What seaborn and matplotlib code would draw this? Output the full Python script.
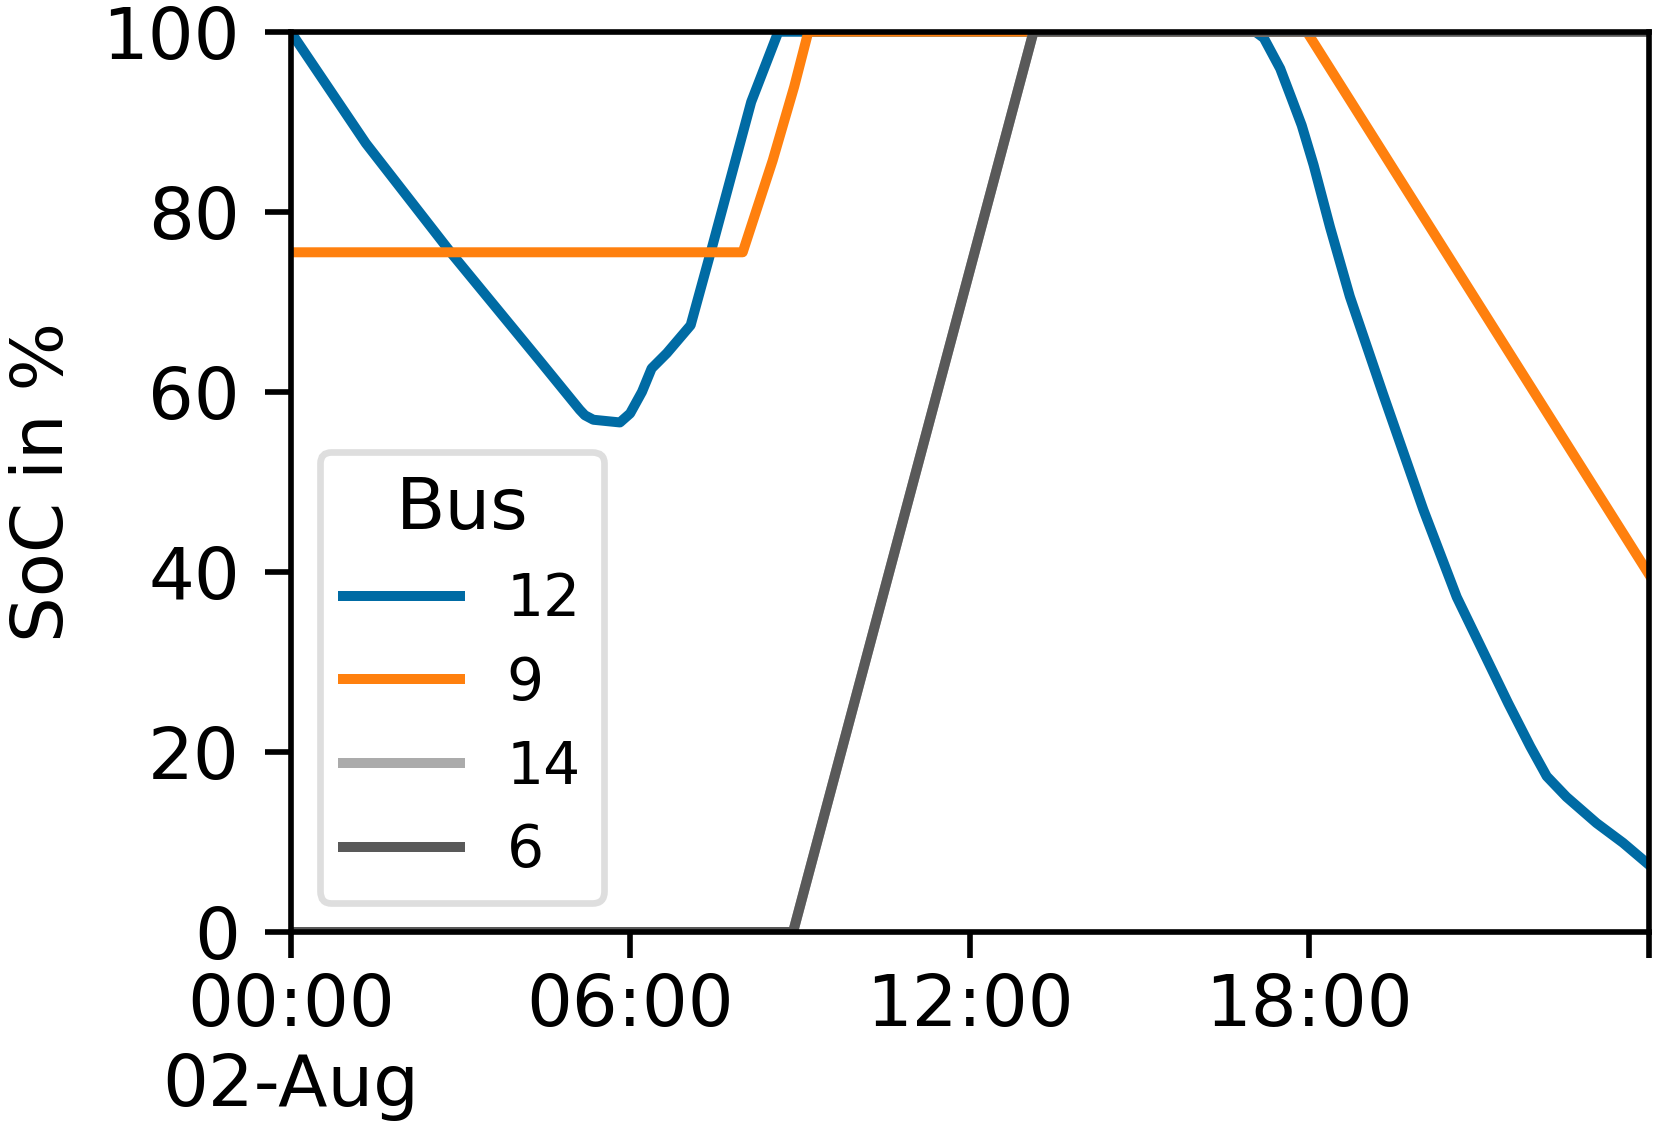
import matplotlib
matplotlib.use("Agg")
import matplotlib.pyplot as plt
import numpy as np
import pandas as pd
import seaborn as sns

# ---- data (hours after 02-Aug 00:00, SoC in %) ----
bus_order = ["12", "9", "14", "6"]
palette = ["#006BA4", "#FF800E", "#ABABAB", "#595959"]

hours_12 = [0.0, 1.33, 2.84, 4.41, 5.11, 5.20, 5.35, 5.82, 6.00, 6.21, 6.38,
            6.65, 7.07, 7.45, 8.14, 8.62, 17.05, 17.20, 17.49, 17.69, 17.87, 18.08,
            18.37, 18.72, 19.31, 20.02, 20.61, 21.52, 21.91, 22.20, 22.55, 23.08,
            23.55, 24.0]
soc_12 = [100.0, 87.6, 75.4, 63.4, 58.0, 57.4, 56.9, 56.6, 57.6, 60.0, 62.6,
          64.3, 67.4, 76.1, 92.2, 100.0, 100.0, 99.3, 95.9, 92.6, 89.6, 85.2,
          78.3, 70.6, 59.7, 46.9, 37.2, 25.4, 20.6, 17.3, 15.0, 12.1,
          9.9, 7.5]

hours_9 = [0.0, 7.99, 8.52, 8.90, 9.15, 17.96, 24.0]
soc_9 = [75.5, 75.5, 85.7, 93.9, 100.0, 100.0, 39.8]

hours_14 = [0.0, 8.88, 13.13, 24.0]
soc_14 = [0.0, 0.0, 100.0, 100.0]

hours_6 = [0.0, 8.88, 13.13, 24.0]
soc_6 = [0.0, 0.0, 100.0, 100.0]

tick_hours = [0, 6, 12, 18, 24]
tick_labels = ["00:00\n02-Aug", "06:00", "12:00", "18:00", ""]
y_ticks = [0, 20, 40, 60, 80, 100]

start = pd.Timestamp("2021-08-02 00:00")
frames = []
for bus, h, s in [("12", hours_12, soc_12), ("9", hours_9, soc_9),
                  ("14", hours_14, soc_14), ("6", hours_6, soc_6)]:
    frames.append(pd.DataFrame({
        "time": start + pd.to_timedelta(np.array(h), unit="h"),
        "SoC": s,
        "Bus": bus,
    }))
df = pd.concat(frames, ignore_index=True)

sns.set_theme(style="ticks")
plt.rcParams["font.family"] = ["DejaVu Sans"]
plt.rcParams["lines.solid_capstyle"] = "projecting"
plt.rcParams["lines.solid_joinstyle"] = "round"
plt.rcParams["text.color"] = "black"

fig, ax = plt.subplots(figsize=(1657 / 300, 1137 / 300), dpi=300)
fig.subplots_adjust(left=0.1754, right=0.9949, bottom=0.1803, top=0.9721)

sns.lineplot(data=df, x="time", y="SoC", hue="Bus", hue_order=bus_order,
             palette=palette, linewidth=2.4, estimator=None, sort=False, ax=ax)

ax.set_xlim(start, start + pd.Timedelta(hours=24))
ax.set_ylim(0, 100)
ax.set_xticks([start + pd.Timedelta(hours=h) for h in tick_hours])
ax.set_xticklabels(tick_labels)
ax.set_yticks(y_ticks)
ax.set_xlabel("")
ax.set_ylabel("SoC in %", fontsize=17.3, color="black", labelpad=5.8)

for sp in ax.spines.values():
    sp.set_visible(True)
    sp.set_linewidth(1.35)
    sp.set_color("black")
ax.tick_params(axis="both", length=6.2, width=1.35, labelsize=17.3,
               color="black", labelcolor="black")
ax.tick_params(axis="y", pad=6)

handles, labels = ax.get_legend_handles_labels()
leg = ax.legend(handles, labels, title="Bus", loc="lower left", fontsize=14,
                title_fontsize=17.3, handlelength=2.0, handletextpad=0.8,
                labelspacing=0.46, frameon=True, fancybox=True, edgecolor="0.84")
leg.get_frame().set_linewidth(1.6)
for t in leg.get_texts():
    t.set_color("black")
leg.get_title().set_color("black")
for ln in leg.get_lines():
    ln.set_solid_capstyle("projecting")

fig.savefig("out.png", dpi=300)
